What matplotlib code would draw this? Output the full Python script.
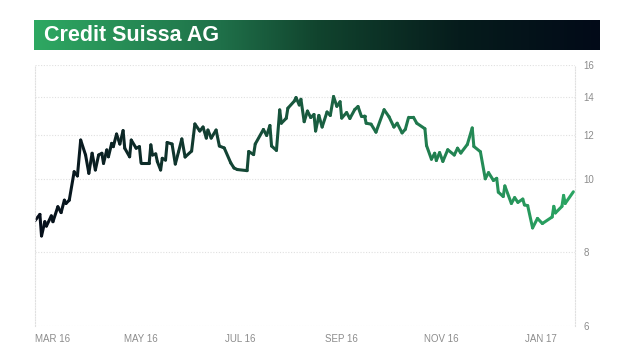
import numpy as np
import pandas as pd
import matplotlib
matplotlib.use("Agg")
import matplotlib.pyplot as plt
import matplotlib.dates as mdates
from matplotlib.collections import LineCollection
from matplotlib.colors import LinearSegmentedColormap

title = "Credit Suissa AG"
start = "2016-02-26"
end = "2017-01-22"

# day offsets from start and closing price
days = [0, 3, 4, 6, 7, 10, 11, 14, 16, 18, 19, 21, 24, 26, 28, 31, 33, 35, 37, 39,
        41, 42, 44, 45, 47, 48, 50, 52, 54, 55, 58, 59, 62, 64, 65, 70, 71, 72, 74, 75,
        77, 78, 80, 81, 84, 86, 88, 90, 92, 96, 98, 101, 103, 105, 106, 108, 111, 113, 116, 120,
        122, 124, 130, 131, 134, 135, 140, 142, 144, 145, 148, 150, 151, 154, 155, 159, 160, 162, 163, 165,
        167, 169, 171, 172, 174, 176, 179, 181, 183, 185, 187, 188, 191, 193, 196, 198, 200, 202, 203, 206,
        209, 214, 217, 220, 222, 225, 227, 229, 232, 234, 239, 240, 243, 245, 246, 248, 250, 253, 257, 259,
        261, 265, 268, 269, 273, 276, 278, 281, 283, 284, 287, 288, 292, 294, 296, 299, 300, 302, 305, 308,
        311, 317, 318, 319, 323, 324, 325, 330]
price = [8.86, 9.03, 8.44, 8.83, 8.71, 8.99, 8.83, 9.24, 9.08, 9.42, 9.33, 9.42, 10.33, 10.14, 11.77, 11.09, 10.26, 11.17, 10.41, 11.09,
         11.17, 10.71, 11.32, 11.01, 11.62, 11.47, 12.05, 11.59, 12.23, 11.40, 11.01, 11.77, 11.40, 11.47, 10.73, 10.73, 11.55, 11.09, 11.14, 10.79,
         10.41, 10.94, 10.86, 11.66, 11.59, 10.68, 11.24, 11.82, 11.00, 11.27, 12.58, 12.21, 12.42, 11.86, 12.26, 11.86, 12.26, 11.50, 11.41, 10.73,
         10.50, 10.43, 10.38, 11.25, 11.11, 11.59, 12.29, 11.98, 12.50, 11.50, 11.30, 13.32, 12.62, 12.88, 13.41, 13.79, 13.97, 13.58, 13.88, 12.70,
         13.26, 12.92, 13.08, 12.21, 13.03, 12.42, 13.21, 13.03, 14.03, 13.51, 13.75, 12.89, 13.18, 12.87, 13.34, 13.50, 13.00, 13.00, 12.62, 12.57,
         12.15, 13.33, 12.96, 12.42, 12.62, 12.11, 12.30, 12.93, 12.93, 12.62, 12.33, 11.52, 10.90, 11.17, 10.84, 11.20, 10.80, 11.33, 11.09, 11.40,
         11.18, 11.57, 12.37, 11.48, 11.24, 10.01, 10.29, 9.96, 10.03, 9.64, 9.52, 9.81, 9.33, 9.49, 9.36, 9.45, 9.29, 9.27, 8.66, 8.92,
         8.78, 8.96, 9.25, 9.07, 9.25, 9.55, 9.33, 9.65]

y_ticks = [6, 8, 10, 12, 14, 16]
y_pos = [0, 74, 147, 191, 229, 261]  # tick spacing as drawn on the original axis
x_ticks = ["2016-02-26", "2016-05-01", "2016-07-01", "2016-09-01", "2016-11-01", "2017-01-01"]
x_labels = ["MAR 16", "MAY 16", "JUL 16", "SEP 16", "NOV 16", "JAN 17"]

plt.rcParams["font.family"] = ["Liberation Sans", "DejaVu Sans"]

dates = pd.Timestamp(start) + pd.to_timedelta(days, unit="D")
x = mdates.date2num(dates)

fig = plt.figure(figsize=(6.4, 3.6), dpi=100)

# header bar with gradient
bar = fig.add_axes([34 / 640, 310 / 360, 566 / 640, 30 / 360])
header_cmap = LinearSegmentedColormap.from_list(
    "hdr", [(0, "#2ea862"), (0.33, "#1f7049"), (0.5, "#11442e"), (0.75, "#061c1c"), (1, "#020a18")])
bar.imshow(np.linspace(0, 1, 256)[None, :], aspect="auto", cmap=header_cmap, extent=[0, 1, 0, 1])
bar.set_axis_off()
bar.text(0.018, 0.48, title, color="white", fontsize=15.5, fontweight="bold",
         va="center", ha="left", transform=bar.transAxes)

ax = fig.add_axes([35 / 640, 34 / 360, 540 / 640, 261 / 360])
fwd = lambda v: np.interp(v, y_ticks, y_pos)
inv = lambda p: np.interp(p, y_pos, y_ticks)
ax.set_yscale("function", functions=(fwd, inv))
ax.set_ylim(6, 16)
ax.set_xlim(x[0], mdates.date2num(pd.Timestamp(end)))

pts = np.column_stack([x, price])
segs = np.stack([pts[:-1], pts[1:]], axis=1)
line_cmap = LinearSegmentedColormap.from_list("ln", ["#060e1a", "#2aa462"])
lc = LineCollection(segs, cmap=line_cmap, linewidth=2.2, capstyle="round", joinstyle="round")
lc.set_array((x[:-1] - x[0]) / (x[-1] - x[0]))
ax.add_collection(lc)

ax.set_yticks(y_ticks)
ax.set_yticklabels([str(t) for t in y_ticks])
ax.yaxis.tick_right()
ax.grid(axis="y", color="#e0e0e0", linestyle=(0, (1, 1.5)), linewidth=0.8)
ax.set_xticks(mdates.date2num(pd.to_datetime(x_ticks)))
ax.set_xticklabels(x_labels)
ax.get_xticklabels()[0].set_horizontalalignment("left")
ax.tick_params(axis="both", length=0, labelsize=7, labelcolor="#8c8c8c")
ax.tick_params(axis="y", pad=6)
ax.tick_params(axis="x", pad=6)

for side in ["top", "bottom"]:
    ax.spines[side].set_visible(False)
for side in ["left", "right"]:
    ax.spines[side].set_color("#e0e0e0")
    ax.spines[side].set_linestyle((0, (1, 1.5)))
    ax.spines[side].set_linewidth(0.8)

fig.savefig("out.png", dpi=100)
